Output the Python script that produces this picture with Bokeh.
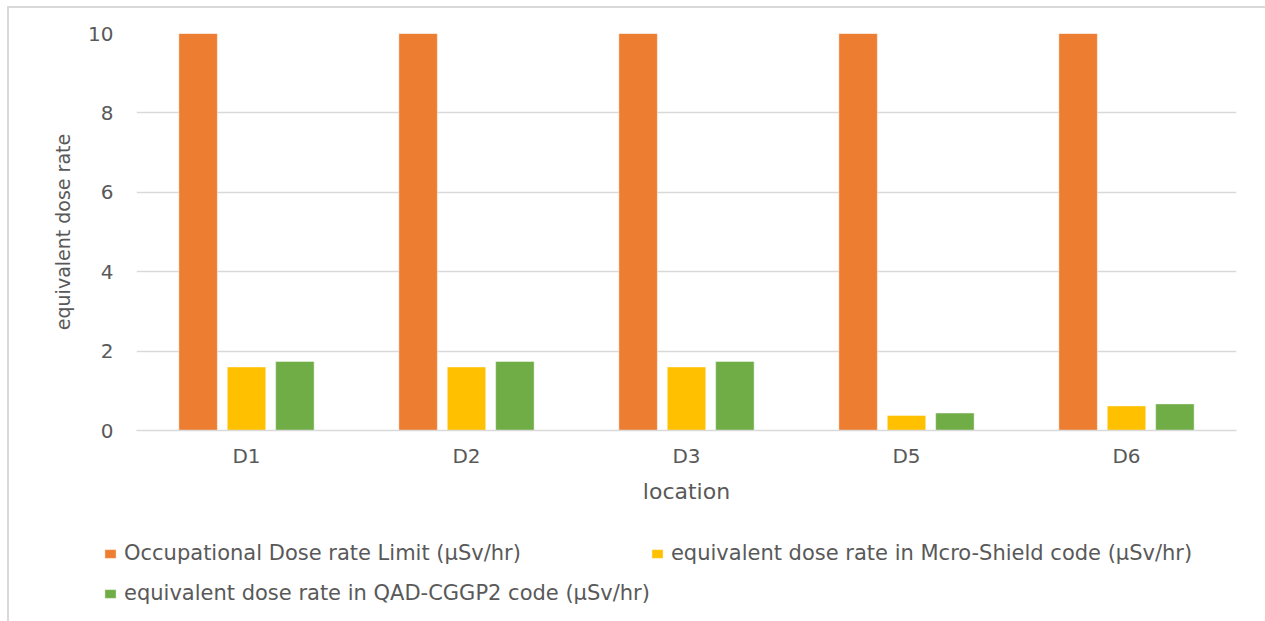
from bokeh.plotting import figure
from bokeh.layouts import column
from bokeh.models import (ColumnDataSource, FactorRange, Range1d, FixedTicker, Legend,
                          LegendItem)
from bokeh.transform import dodge
from bokeh.embed import file_html
from bokeh.resources import INLINE

locations = ["D1", "D2", "D3", "D5", "D6"]
limit = [10, 10, 10, 10, 10]
microshield = [1.60, 1.60, 1.60, 0.38, 0.62]
qad = [1.74, 1.74, 1.74, 0.44, 0.67]
y_ticks = [0, 2, 4, 6, 8, 10]

names = ["Occupational Dose rate Limit (µSv/hr)",
         "equivalent dose rate in Mcro-Shield code (µSv/hr)",
         "equivalent dose rate in QAD-CGGP2 code (µSv/hr)"]
colors = ["#ED7D31", "#FFC000", "#70AD47"]
fields = ["limit", "ms", "qad"]
offsets = [-0.22, 0.0, 0.22]

src = ColumnDataSource(dict(loc=locations, limit=limit, ms=microshield, qad=qad))

FONT = "DejaVu Sans"
TXT = "#595959"
GRID = "#D9D9D9"

p = figure(width=1256, height=522, x_range=FactorRange(*locations, range_padding=0),
           y_range=Range1d(0, 10), output_backend="svg", toolbar_location=None,
           min_border_left=127, min_border_right=29, min_border_top=25,
           min_border_bottom=100)
p.outline_line_color = None

for field, off, c in zip(fields, offsets, colors):
    p.vbar(x=dodge("loc", off, range=p.x_range), top=field, width=0.175, source=src,
           fill_color=c, line_color="white", line_alpha=0.45, line_width=1)

p.yaxis.ticker = FixedTicker(ticks=y_ticks)
p.ygrid.grid_line_color = GRID
p.ygrid.grid_line_width = 1.5
p.xgrid.grid_line_color = None

p.yaxis.axis_line_color = None
p.yaxis.major_tick_line_color = None
p.yaxis.major_tick_out = 0
p.yaxis.minor_tick_line_color = None
p.yaxis.minor_tick_out = 0
p.yaxis.major_label_standoff = 23
p.yaxis.axis_label = "equivalent dose rate"
p.yaxis.axis_label_standoff = 11
p.yaxis.axis_label_text_font_size = "19px"

p.xaxis.axis_line_color = GRID
p.xaxis.axis_line_width = 1.5
p.xaxis.major_tick_line_color = None
p.xaxis.major_tick_out = 0
p.xaxis.major_label_standoff = 13
p.xaxis.axis_label = "location"
p.xaxis.axis_label_standoff = 8
p.xaxis.axis_label_text_font_size = "22px"

for ax in [p.xaxis, p.yaxis]:
    ax.major_label_text_font = FONT
    ax.major_label_text_font_size = "20px"
    ax.major_label_text_color = TXT
    ax.axis_label_text_font = FONT
    ax.axis_label_text_color = TXT
    ax.axis_label_text_font_style = "normal"

# legend strip below the chart
p2 = figure(width=1256, height=91, x_range=FactorRange(*locations), y_range=Range1d(100, 200),
            output_backend="svg", toolbar_location=None, x_axis_type=None, y_axis_type=None,
            min_border=0)
p2.outline_line_color = None
p2.grid.grid_line_color = None
for fig in (p, p2):
    if "frame_align" in fig.properties():
        fig.frame_align = False

rs = {}
for field, off, c in zip(fields, offsets, colors):
    rs[field] = p2.vbar(x=dodge("loc", off, range=p2.x_range), top=field, width=0.175,
                        source=src, fill_color=c, line_color="white", line_alpha=0.45,
                        line_width=1)

# column-major fill: col 1 -> limit, qad ; col 2 -> ms
order = [0, 2, 1]
legend = Legend(items=[LegendItem(label=names[i], renderers=[rs[fields[i]]]) for i in order],
                ncols=2, location=(94, 8), padding=0, margin=0, spacing=0,
                glyph_width=14, glyph_height=11, label_standoff=7, label_width=515,
                label_height=40, border_line_color=None, background_fill_alpha=0,
                label_text_font=FONT, label_text_font_size="21px", label_text_color=TXT)
p2.add_layout(legend, "center")

layout = column(p, p2, spacing=0)
layout.styles = {"margin-left": "7px", "margin-top": "6px",
                 "border-left": "2px solid #D9D9D9", "border-top": "2px solid #D9D9D9"}

open("out.html", "w").write(file_html(layout, INLINE))
